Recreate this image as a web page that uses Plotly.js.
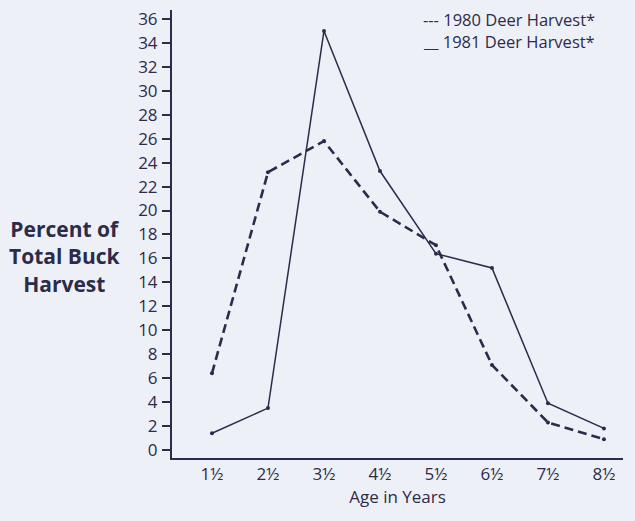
<!DOCTYPE html>
<html>
<head>
<meta charset="utf-8">
<script src="https://cdn.plot.ly/plotly-3.0.1.min.js"></script>
<style>
html,body{margin:0;padding:0;background:#eef0f8;}
#chart{width:635px;height:521px;}
</style>
</head>
<body>
<div id="chart"></div>
<script>
// Age classes (years) and tick labels
const ages = [1.5, 2.5, 3.5, 4.5, 5.5, 6.5, 7.5, 8.5];
const ageLabels = ["1½", "2½", "3½", "4½", "5½", "6½", "7½", "8½"];
// Percent of total buck harvest
const harvest1980 = [6.4, 23.2, 25.8, 19.9, 17.1, 7.1, 2.3, 0.9];
const harvest1981 = [1.4, 3.5, 35.0, 23.3, 16.4, 15.2, 3.9, 1.8];
const yTicks = [0,2,4,6,8,10,12,14,16,18,20,22,24,26,28,30,32,34,36];

const ink = "#2c2b4a";
const font = "Open Sans, Lato, sans-serif";

const traces = [
  {
    x: ages, y: harvest1980, type: "scatter", mode: "lines+markers",
    name: "1980 Deer Harvest*",
    line: {color: ink, width: 2.6, dash: "9px,5px"},
    marker: {color: ink, size: 4}
  },
  {
    x: ages, y: harvest1981, type: "scatter", mode: "lines+markers",
    name: "1981 Deer Harvest*",
    line: {color: ink, width: 1.5},
    marker: {color: ink, size: 4}
  }
];

const layout = {
  width: 635, height: 521,
  paper_bgcolor: "#eef0f8",
  plot_bgcolor: "rgba(0,0,0,0)",
  showlegend: false,
  margin: {l: 172, r: 12, t: 10, b: 63},
  font: {family: font, color: ink},
  xaxis: {
    range: [0.786, 8.84],
    tickvals: ages, ticktext: ageLabels,
    showgrid: false, zeroline: false,
    showline: true, linecolor: ink, linewidth: 2,
    ticks: "", ticklabelstandoff: 0,
    tickfont: {family: font, size: 17, color: ink},
    title: {text: "Age in Years", font: {family: font, size: 17, color: ink}, standoff: 6}
  },
  yaxis: {
    range: [-0.67, 36.75],
    tickvals: yTicks,
    showgrid: false, zeroline: false,
    showline: true, linecolor: ink, linewidth: 2,
    ticks: "outside", ticklen: 8, tickwidth: 2, tickcolor: ink,
    ticklabelstandoff: 1,
    tickfont: {family: font, size: 17, color: ink}
  },
  annotations: [
    {
      xref: "paper", yref: "paper", x: -0.237, y: 0.449,
      xanchor: "center", yanchor: "middle", showarrow: false,
      text: "<b>Percent of<br>Total Buck<br>Harvest</b>",
      font: {family: font, size: 21, color: ink}, align: "center"
    },
    {
      xref: "paper", yref: "paper", x: 0.552, y: 0.979,
      xanchor: "left", yanchor: "middle", showarrow: false,
      text: "--- 1980 Deer Harvest*",
      font: {family: font, size: 16.5, color: ink}
    },
    {
      xref: "paper", yref: "paper", x: 0.552, y: 0.929,
      xanchor: "left", yanchor: "middle", showarrow: false,
      text: "__ 1981 Deer Harvest*",
      font: {family: font, size: 16.5, color: ink}
    }
  ]
};

Plotly.newPlot("chart", traces, layout, {displayModeBar: false, staticPlot: true});
</script>
</body>
</html>
